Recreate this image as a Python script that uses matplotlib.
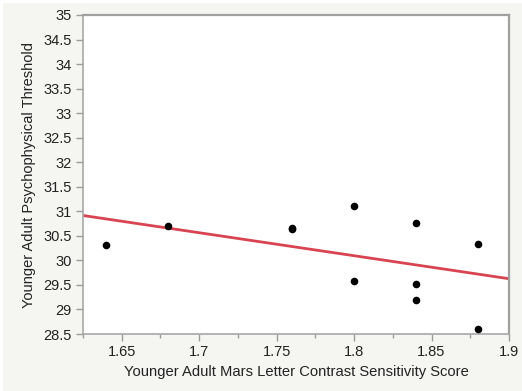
import numpy as np
import matplotlib
matplotlib.use("Agg")
import matplotlib.pyplot as plt
from matplotlib.ticker import MultipleLocator
from matplotlib.patches import Rectangle

plt.rcParams['font.family'] = ['Liberation Sans', 'DejaVu Sans']

x_vals = [1.64, 1.68, 1.76, 1.76, 1.80, 1.80, 1.84, 1.84, 1.84, 1.88, 1.88]
y_vals = [30.31, 30.71, 30.67, 30.63, 31.11, 29.58, 30.76, 29.51, 29.19, 30.34, 28.61]
x_ticks = [1.65, 1.7, 1.75, 1.8, 1.85, 1.9]
y_ticks = [28.5, 29, 29.5, 30, 30.5, 31, 31.5, 32, 32.5, 33, 33.5, 34, 34.5, 35]
x_label = "Younger Adult Mars Letter Contrast Sensitivity Score"
y_label = "Younger Adult Psychophysical Threshold"

W, H = 522, 391
fig = plt.figure(figsize=(W/100, H/100), dpi=100)
fig.patch.set_facecolor('#f5f5f2')
# thin white margin at top and left
fig.patches.append(Rectangle((0, 1 - 3/H), 1, 3/H, transform=fig.transFigure,
                             facecolor='white', edgecolor='none', zorder=0))
fig.patches.append(Rectangle((0, 0), 3/W, 1, transform=fig.transFigure,
                             facecolor='white', edgecolor='none', zorder=0))

ax = fig.add_axes([83/W, 1 - 334/H, (509-83)/W, (334-15)/H])
ax.set_facecolor('white')

xmin, xmax = 1.625, 1.9
ax.set_xlim(xmin, xmax)
ax.set_ylim(28.5, 35)

slope, intercept = np.polyfit(x_vals, y_vals, 1)
lx = np.array([xmin, xmax])
ax.plot(lx, slope * lx + intercept, color='#d94452', lw=2, zorder=2)
ax.scatter(x_vals, y_vals, s=30, color='black', zorder=3, linewidths=0)

ax.set_xticks(x_ticks)
ax.set_xticklabels([f"{t:g}" for t in x_ticks])
ax.xaxis.set_minor_locator(MultipleLocator(0.025))
ax.set_yticks(y_ticks)
ax.set_yticklabels([f"{t:g}" for t in y_ticks])

ax.tick_params(axis='both', which='major', direction='out', length=5, width=1,
               color='#9a9a9a', labelsize=10.5, labelcolor='#222222', pad=3)
ax.tick_params(axis='x', which='minor', direction='out', length=3, width=1, color='#9a9a9a')

for s in ['left', 'bottom']:
    ax.spines[s].set_color('#a8a8a8')
    ax.spines[s].set_linewidth(1.2)
for s in ['top', 'right']:
    ax.spines[s].set_color('#a0a0a0')
    ax.spines[s].set_linewidth(1.6)

ax.set_xlabel(x_label, fontsize=10.6, color='#222222', labelpad=4)
ax.set_ylabel(y_label, fontsize=10.5, color='#222222', labelpad=5)

fig.savefig("out.png", dpi=100, facecolor=fig.get_facecolor())
